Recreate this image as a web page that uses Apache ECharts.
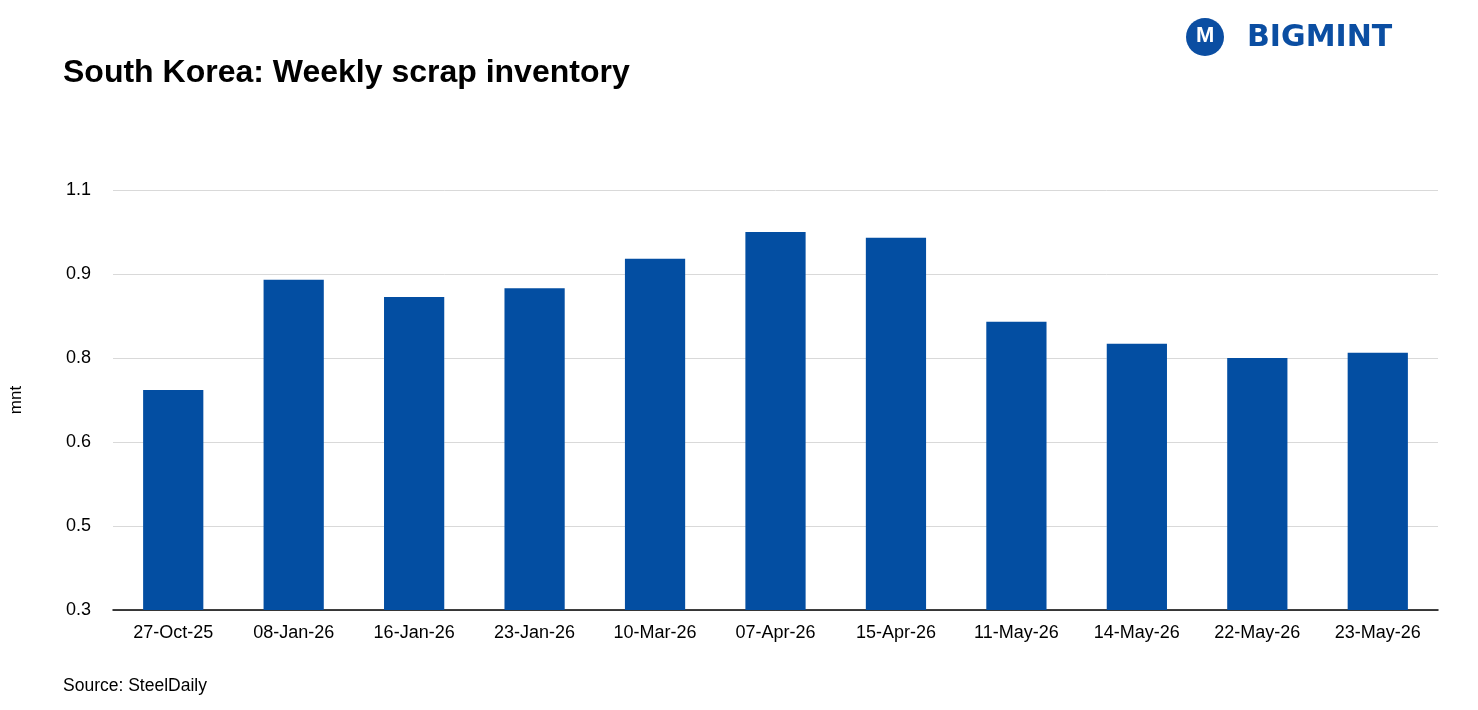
<!DOCTYPE html>
<html><head><meta charset="utf-8">
<script src="https://cdn.jsdelivr.net/npm/echarts@6/dist/echarts.min.js"></script>
<style>html,body{margin:0;padding:0;background:#fff}#c{width:1478px;height:710px}</style>
</head><body><div id="c"></div>
<script>
const categories = ['27-Oct-25','08-Jan-26','16-Jan-26','23-Jan-26','10-Mar-26','07-Apr-26','15-Apr-26','11-May-26','14-May-26','22-May-26','23-May-26'];
const inventory = [0.719,0.929,0.896,0.913,0.969,1.020,1.009,0.849,0.807,0.780,0.790];
const chart = echarts.init(document.getElementById('c'));
chart.setOption({
  animation:false,
  textStyle:{fontFamily:'Liberation Sans, Arial, sans-serif'},
  title:{text:'South Korea: Weekly scrap inventory',left:58,top:52,textStyle:{fontSize:32,fontWeight:'bold',color:'#000'}},
  graphic:[
    {type:'circle',shape:{cx:1205,cy:37,r:19},style:{fill:'#0B4EA2'}},
    {type:'text',left:1196,top:25,style:{text:'M',fill:'#fff',font:'bold 22px Liberation Sans'}},
    {type:'text',left:1247,top:23,style:{text:'BIGMINT',fill:'#0B4EA2',font:'bold 30px DejaVu Sans',letterSpacing:11}},
    {type:'text',left:63,top:677,style:{text:'Source: SteelDaily',fill:'#000',font:'17.5px Liberation Sans'}}
  ],
  grid:{left:111,right:40,top:190,bottom:100},
  xAxis:{type:'category',data:categories,axisTick:{show:false},
    axisLine:{lineStyle:{color:'#000',width:1.5}},
    axisLabel:{color:'#000',fontSize:18,margin:14}},
  yAxis:{type:'value',min:0.3,max:1.1,interval:0.16,name:'mnt',nameLocation:'middle',nameGap:88,
    nameTextStyle:{color:'#000',fontSize:17},
    axisLine:{show:false},axisTick:{show:false},
    axisLabel:{color:'#000',fontSize:18,margin:22,formatter:v=>v.toFixed(1)},
    splitLine:{lineStyle:{color:'#d9d9d9'}}},
  series:[{type:'bar',data:inventory,barWidth:'50%',itemStyle:{color:'#034EA2'}}]
});
</script></body></html>
